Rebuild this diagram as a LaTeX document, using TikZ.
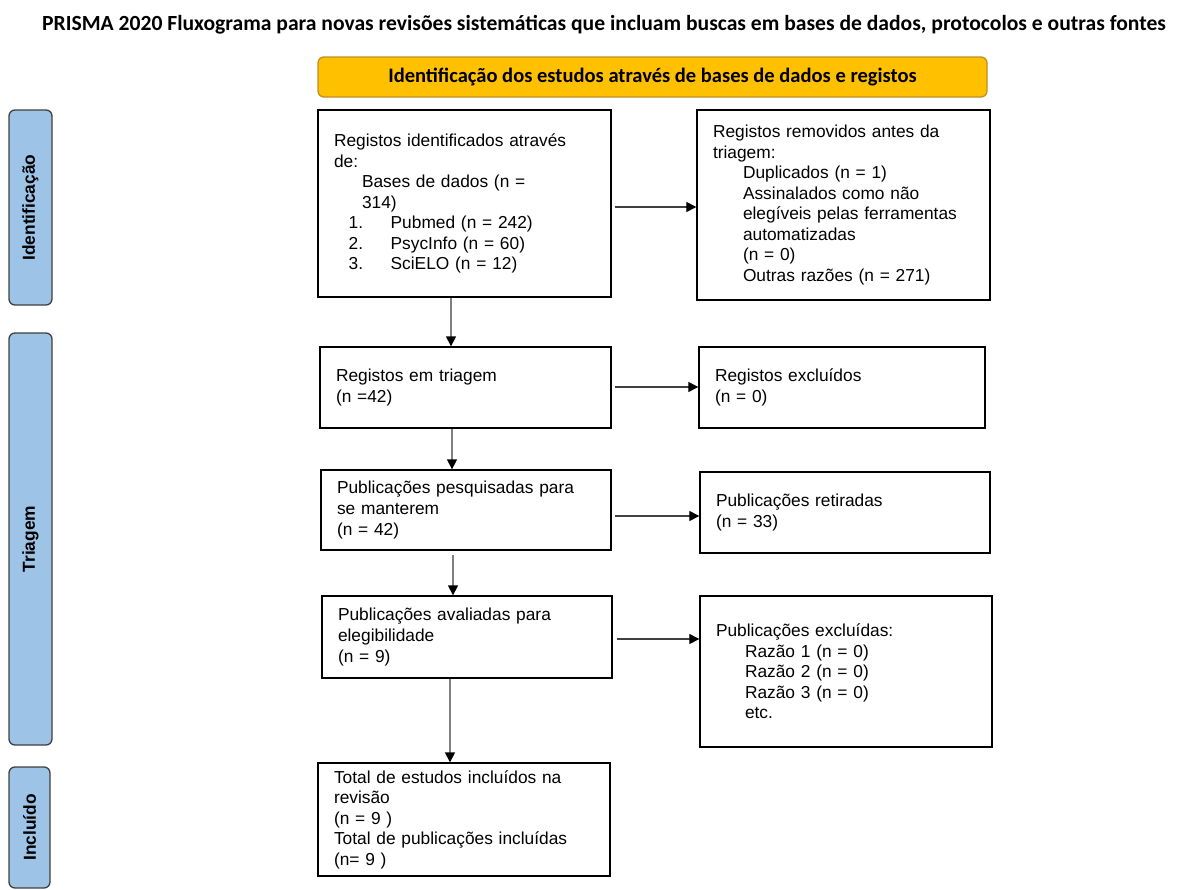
\documentclass[tikz,border=0pt]{standalone}
\usepackage{fontspec}
\usetikzlibrary{arrows.meta,calc}
\newfontfamily\arialf{Liberation Sans}
\newfontfamily\calibf{Carlito}
\newlength\pxl
\setlength\pxl{0.75pt}
\definecolor{hdr}{HTML}{FFC000}
\definecolor{hdrline}{HTML}{C09020}
\definecolor{bar}{HTML}{9DC3E6}
\definecolor{barline}{HTML}{404040}
\tikzset{
  box/.style 2 args={draw=black, line width=1pt, rectangle, align=left,
    minimum width=#1\pxl, minimum height=#2\pxl,
    text width=\dimexpr#1\pxl-32\pxl\relax, inner xsep=16\pxl, inner ysep=2pt,
    font=\arialf\fontsize{13}{15.4}\selectfont},
  sidebar/.style={draw=barline, fill=bar, line width=1pt, rounded corners=6\pxl},
  sidelabel/.style={rotate=90, font=\arialf\bfseries\fontsize{13}{15}\selectfont},
  conn/.style={draw=gray, line width=1pt, -{Triangle[length=7.5pt,width=7.5pt,black]}},
  hconn/.style={draw=black!75, line width=0.8pt, -{Triangle[length=7.5pt,width=7.5pt,black]}}
}
\begin{document}
\begin{tikzpicture}[x=\pxl,y=-\pxl]
\useasboundingbox (0,0) rectangle (1177,889);
% title
\node[font=\calibf\bfseries\fontsize{16.2}{19}\selectfont] (title) at (604,25)
  {PRISMA 2020 Fluxograma para novas revisões sistemáticas que incluam buscas em bases de dados, protocolos e outras fontes};
% header
\node[draw=hdrline, fill=hdr, line width=1pt, rounded corners=6\pxl,
  minimum width=669\pxl, minimum height=40\pxl, font=\calibf\bfseries\fontsize{15.4}{18}\selectfont] (hdr) at (652.5,77)
  {Identificação dos estudos através de bases de dados e registos};
% side bars
\draw[sidebar] (9,110) rectangle (52,305);
\node[sidelabel] (lid) at (30.5,207.5) {Identificação};
\draw[sidebar] (9,333) rectangle (52,745);
\node[sidelabel] (ltr) at (30.5,539) {Triagem};
\draw[sidebar] (9,767) rectangle (50,888);
\node[sidelabel] (lin) at (29.5,827.5) {Incluído};
% boxes
\node[box={293}{187}] (b1) at (464.5,203.5) {Registos identificados através\\
de:\\
\hspace*{21pt}Bases de dados (n =\\
\hspace*{21pt}314)\\
\hspace*{11pt}\makebox[31.5pt][l]{1.}Pubmed (n = 242)\\
\hspace*{11pt}\makebox[31.5pt][l]{2.}PsycInfo (n = 60)\\
\hspace*{11pt}\makebox[31.5pt][l]{3.}SciELO (n = 12)};
\node[box={293}{190}] (b2) at (843.5,205) {Registos removidos antes da\\
triagem:\\
\hspace*{22.5pt}Duplicados (n = 1)\\
\hspace*{22.5pt}Assinalados como não\\
\hspace*{22.5pt}elegíveis pelas ferramentas\\
\hspace*{22.5pt}automatizadas\\
\hspace*{22.5pt}(n = 0)\\
\hspace*{22.5pt}Outras razões (n = 271)};
\node[box={291}{81}] (b3) at (465.5,387.5) {Registos em triagem\\(n =42)};
\node[box={286}{81}] (b4) at (842,387.5) {Registos excluídos\\(n = 0)};
\node[box={290}{80}] (b5) at (466,510) {Publicações pesquisadas para\\se manterem\\(n = 42)};
\node[box={290}{81}] (b6) at (845,512.5) {Publicações retiradas\\(n = 33)};
\node[box={290}{82}] (b7) at (467,637) {Publicações avaliadas para\\elegibilidade\\(n = 9)};
\node[box={292}{151}] (b8) at (846,671.5) {Publicações excluídas:\\
\hspace*{21.75pt}Razão 1 (n = 0)\\
\hspace*{21.75pt}Razão 2 (n = 0)\\
\hspace*{21.75pt}Razão 3 (n = 0)\\
\hspace*{21.75pt}etc.};
\node[box={292}{113}] (b9) at (464,819.5) {Total de estudos incluídos na\\
revisão\\
(n = 9 )\\
Total de publicações incluídas\\
(n= 9 )};
% vertical connectors
\draw[conn] (b1.south -| 451,0) -- (b3.north -| 451,0);
\draw[conn] (b3.south -| 452,0) -- (b5.north -| 452,0);
\draw[conn] ([yshift=-4\pxl]b5.south -| 453,0) -- (b7.north -| 453,0);
\draw[conn] (b7.south -| 450,0) -- (b9.north -| 450,0);
% horizontal connectors
\draw[hconn] ([xshift=3\pxl]b1.east |- 0,207) -- (b2.west |- 0,207);
\draw[hconn] ([xshift=3\pxl]b3.east |- 0,387) -- (b4.west |- 0,387);
\draw[hconn] ([xshift=3\pxl]b5.east |- 0,516) -- (b6.west |- 0,516);
\draw[hconn] ([xshift=4\pxl]b7.east |- 0,639) -- (b8.west |- 0,639);
\end{tikzpicture}
\end{document}
